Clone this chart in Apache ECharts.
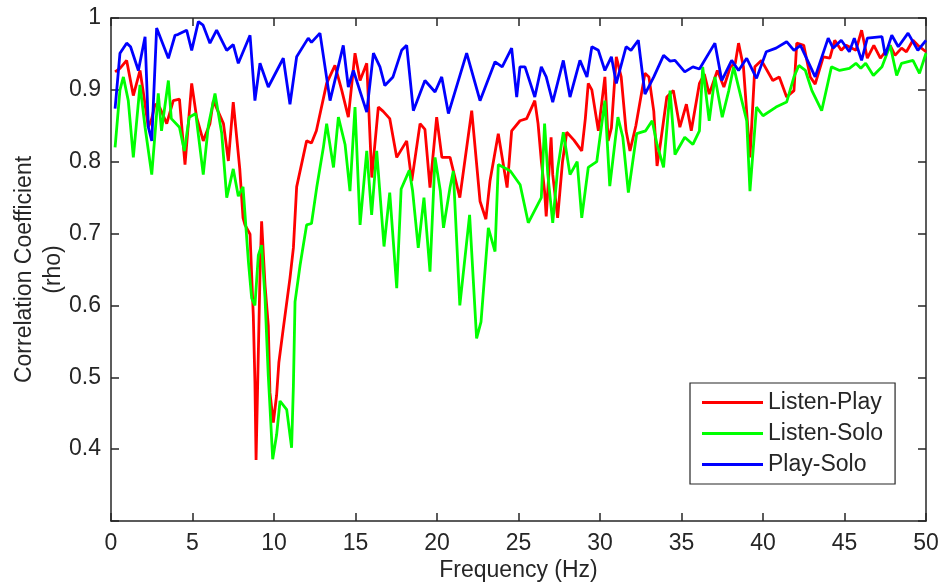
<!DOCTYPE html>
<html>
<head>
<meta charset="utf-8">
<script src="https://cdn.jsdelivr.net/npm/echarts@6/dist/echarts.min.js"></script>
<style>
html,body{margin:0;padding:0;background:#fff;}
#chart{width:940px;height:584px;}
</style>
</head>
<body>
<div id="chart"></div>
<script>
const seriesNames = ['Listen-Play', 'Listen-Solo', 'Play-Solo'];
const xTicks = [0, 5, 10, 15, 20, 25, 30, 35, 40, 45, 50];
const yTicks = [0.4, 0.5, 0.6, 0.7, 0.8, 0.9, 1];

const listenPlayFreq = [0.25,0.55,0.96,1.37,1.78,1.98,2.29,2.5,2.7,3.0,3.42,3.82,4.2,4.54,4.95,5.25,5.66,6.07,6.28,6.9,7.2,7.5,7.9,8.1,8.22,8.53,8.63,8.73,8.83,8.9,9.14,9.24,9.45,9.65,9.75,9.96,10.16,10.3,10.57,10.98,11.19,11.39,12.0,12.3,12.6,13.23,13.74,14.15,14.56,14.97,15.28,15.69,16.0,16.4,16.7,17.1,17.53,18.14,18.45,18.96,19.26,19.57,19.98,20.3,20.8,21.4,22.13,22.64,23.0,23.25,23.76,24.3,24.58,25.09,25.5,26.0,26.2,26.4,26.6,26.7,27.0,27.1,27.4,27.7,27.96,28.4,28.88,29.1,29.28,29.5,29.9,30.3,30.5,30.7,31.0,31.3,31.6,31.84,32.2,32.76,33.0,33.3,33.5,33.7,34.1,34.5,34.9,35.3,35.6,36.1,36.4,36.7,37.2,37.6,38.0,38.3,38.5,38.8,39.2,39.5,39.9,40.6,41.0,41.45,41.9,42.07,42.5,42.9,43.2,43.7,44.1,44.4,44.8,45.1,45.7,46.05,46.4,46.8,47.2,47.8,48.1,48.5,48.8,49.2,49.5,50.0];
const listenPlayRho = [0.925,0.93,0.941,0.892,0.927,0.897,0.848,0.86,0.88,0.875,0.853,0.885,0.887,0.796,0.909,0.862,0.829,0.853,0.885,0.853,0.801,0.883,0.79,0.722,0.712,0.699,0.642,0.586,0.493,0.385,0.642,0.717,0.628,0.572,0.479,0.437,0.475,0.521,0.568,0.638,0.68,0.765,0.829,0.826,0.843,0.909,0.934,0.9,0.862,0.951,0.913,0.937,0.778,0.876,0.87,0.86,0.806,0.829,0.773,0.853,0.845,0.764,0.862,0.806,0.806,0.75,0.871,0.745,0.72,0.773,0.839,0.764,0.843,0.857,0.86,0.885,0.853,0.801,0.759,0.724,0.834,0.782,0.722,0.8,0.841,0.83,0.815,0.86,0.909,0.9,0.843,0.918,0.829,0.847,0.946,0.918,0.843,0.815,0.85,0.923,0.918,0.87,0.794,0.824,0.89,0.899,0.848,0.88,0.843,0.909,0.922,0.894,0.927,0.904,0.932,0.937,0.965,0.932,0.806,0.932,0.941,0.913,0.918,0.89,0.899,0.965,0.962,0.918,0.908,0.946,0.944,0.969,0.955,0.962,0.955,0.983,0.944,0.962,0.944,0.962,0.948,0.958,0.953,0.969,0.962,0.953];

const listenSoloFreq = [0.25,0.55,0.76,1.06,1.37,1.78,2.09,2.5,2.9,3.1,3.52,3.7,4.2,4.5,4.8,5.2,5.66,5.97,6.38,6.79,7.1,7.5,7.81,8.1,8.43,8.63,8.83,9.04,9.24,9.45,9.65,9.75,9.92,10.16,10.37,10.78,11.08,11.19,11.29,11.6,12.0,12.3,12.62,13.03,13.23,13.65,13.95,14.36,14.66,14.97,15.28,15.69,15.99,16.3,16.75,17.1,17.53,17.8,18.3,18.5,18.85,19.2,19.57,19.88,20.2,20.4,20.8,21.0,21.4,22.0,22.43,22.7,23.15,23.56,23.76,24.5,25.1,25.6,26.4,26.6,26.8,27.1,27.4,27.75,28.16,28.6,28.88,29.28,29.8,30.3,30.6,31.1,31.4,31.74,32.25,32.8,33.2,33.5,33.9,34.3,34.6,35.2,35.7,36.1,36.3,36.7,37.05,37.5,37.9,38.2,38.7,39.0,39.2,39.6,40.0,40.8,41.45,41.9,42.2,42.6,43.0,43.6,44.2,44.7,45.3,45.7,46.0,46.3,46.77,47.3,47.8,48.2,48.5,49.2,49.6,50.0];
const listenSoloRho = [0.82,0.9,0.918,0.885,0.806,0.907,0.848,0.782,0.895,0.843,0.913,0.86,0.848,0.815,0.862,0.867,0.782,0.85,0.895,0.84,0.75,0.79,0.752,0.765,0.661,0.61,0.6,0.67,0.684,0.61,0.502,0.46,0.386,0.42,0.467,0.455,0.402,0.488,0.605,0.656,0.712,0.714,0.764,0.82,0.853,0.792,0.862,0.824,0.759,0.876,0.712,0.815,0.726,0.815,0.682,0.757,0.624,0.762,0.788,0.76,0.68,0.75,0.647,0.806,0.76,0.708,0.764,0.787,0.6,0.726,0.554,0.577,0.708,0.675,0.796,0.787,0.768,0.715,0.75,0.853,0.782,0.715,0.79,0.841,0.782,0.8,0.722,0.792,0.8,0.885,0.766,0.862,0.834,0.757,0.839,0.843,0.857,0.824,0.792,0.899,0.81,0.834,0.824,0.843,0.932,0.857,0.918,0.862,0.899,0.932,0.885,0.857,0.759,0.876,0.864,0.876,0.883,0.918,0.934,0.927,0.899,0.871,0.932,0.927,0.93,0.937,0.93,0.937,0.92,0.932,0.962,0.92,0.937,0.941,0.923,0.951];

const playSoloFreq = [0.25,0.55,0.96,1.2,1.68,2.09,2.29,2.5,2.8,3.52,3.93,4.1,4.64,4.95,5.36,5.65,6.07,6.48,7.1,7.5,7.81,8.53,8.83,9.14,9.65,10.57,10.98,11.39,12.1,12.3,12.82,13.44,14.25,14.56,14.87,15.69,16.1,16.5,16.8,17.3,17.83,18.14,18.55,19.26,19.88,20.29,20.7,21.82,22.64,23.56,24.0,24.58,24.89,25.09,25.4,26.0,26.4,26.7,27.1,27.75,28.16,28.77,29.2,29.5,29.9,30.3,30.7,31.0,31.6,31.9,32.35,32.76,33.3,33.9,34.3,34.6,35.2,35.7,36.1,37.05,37.47,38.08,38.5,39.0,39.6,40.2,40.8,41.45,41.9,42.3,43.2,44.0,44.3,44.8,45.3,45.6,46.05,46.4,47.3,47.5,47.9,48.3,48.9,49.5,50.0];
const playSoloRho = [0.874,0.951,0.965,0.96,0.927,0.974,0.848,0.829,0.986,0.944,0.976,0.977,0.983,0.955,0.995,0.99,0.965,0.983,0.955,0.963,0.937,0.976,0.885,0.937,0.904,0.944,0.88,0.946,0.972,0.966,0.979,0.885,0.962,0.904,0.927,0.869,0.951,0.932,0.906,0.918,0.955,0.962,0.871,0.913,0.897,0.918,0.867,0.951,0.885,0.939,0.932,0.958,0.89,0.932,0.932,0.89,0.932,0.918,0.883,0.941,0.89,0.941,0.918,0.96,0.955,0.927,0.946,0.909,0.96,0.955,0.969,0.894,0.918,0.948,0.94,0.941,0.925,0.932,0.929,0.965,0.913,0.941,0.927,0.944,0.916,0.953,0.958,0.967,0.955,0.962,0.918,0.972,0.958,0.969,0.953,0.972,0.941,0.972,0.974,0.948,0.976,0.96,0.979,0.955,0.969];

const colors = ['#ff0000', '#00ff00', '#0000ff'];
const freqs = [listenPlayFreq, listenSoloFreq, playSoloFreq];
const rhos = [listenPlayRho, listenSoloRho, playSoloRho];

const FONT = 'Liberation Sans, Arial, sans-serif';
const TXT = '#262626';
const FS = 23;

const chart = echarts.init(document.getElementById('chart'), null, {renderer: 'canvas'});
function axisLine() { return {show: true, onZero: false, lineStyle: {color: '#262626', width: 1.5}}; }
function tick() { return {show: true, inside: true, length: 8, lineStyle: {color: '#262626', width: 1.5}}; }

chart.setOption({
  animation: false,
  backgroundColor: '#ffffff',
  grid: {left: 111, right: 14, top: 18, bottom: 63, containLabel: false, outerBoundsMode: 'none'},
  legend: {
    data: seriesNames,
    orient: 'vertical',
    left: 690,
    top: 383,
    padding: [8, 12, 8, 12],
    itemGap: 8,
    itemWidth: 61,
    itemHeight: 3,
    icon: 'rect',
    borderColor: '#262626',
    borderWidth: 1.2,
    backgroundColor: '#ffffff',
    textStyle: {fontFamily: FONT, fontSize: FS, color: TXT}
  },
  xAxis: [{
    type: 'value', min: xTicks[0], max: xTicks[xTicks.length - 1], interval: 5,
    position: 'bottom',
    name: 'Frequency (Hz)', nameLocation: 'middle', nameGap: 38, nameMoveOverlap: false,
    nameTextStyle: {fontFamily: FONT, fontSize: FS, color: TXT},
    axisLine: axisLine(), axisTick: tick(),
    axisLabel: {fontFamily: FONT, fontSize: FS, color: TXT, margin: 11},
    splitLine: {show: false}
  }, {
    type: 'value', min: xTicks[0], max: xTicks[xTicks.length - 1], interval: 5,
    position: 'top',
    axisLine: axisLine(), axisTick: tick(), axisLabel: {show: false}, splitLine: {show: false}
  }],
  yAxis: [{
    type: 'value', min: 0.3, max: 1, interval: 0.1,
    position: 'left',
    name: 'Correlation Coefficient\n(rho)', nameLocation: 'middle', nameGap: 43, nameMoveOverlap: false,
    nameTextStyle: {fontFamily: FONT, fontSize: FS, color: TXT, lineHeight: 29},
    axisLine: axisLine(), axisTick: tick(),
    axisLabel: {fontFamily: FONT, fontSize: FS, color: TXT, margin: 10,
      formatter: v => {
        const t = yTicks.find(y => Math.abs(y - v) < 1e-6);
        return t === undefined ? '' : String(t);
      }},
    splitLine: {show: false}
  }, {
    type: 'value', min: 0.3, max: 1, interval: 0.1,
    position: 'right',
    axisLine: axisLine(), axisTick: tick(), axisLabel: {show: false}, splitLine: {show: false}
  }],
  series: seriesNames.map((n, i) => ({
    name: n,
    type: 'line',
    xAxisIndex: 0,
    yAxisIndex: 0,
    showSymbol: false,
    symbol: 'none',
    color: colors[i],
    lineStyle: {color: colors[i], width: 2.8},
    data: freqs[i].map((f, j) => [f, rhos[i][j]])
  }))
});
</script>
</body>
</html>
